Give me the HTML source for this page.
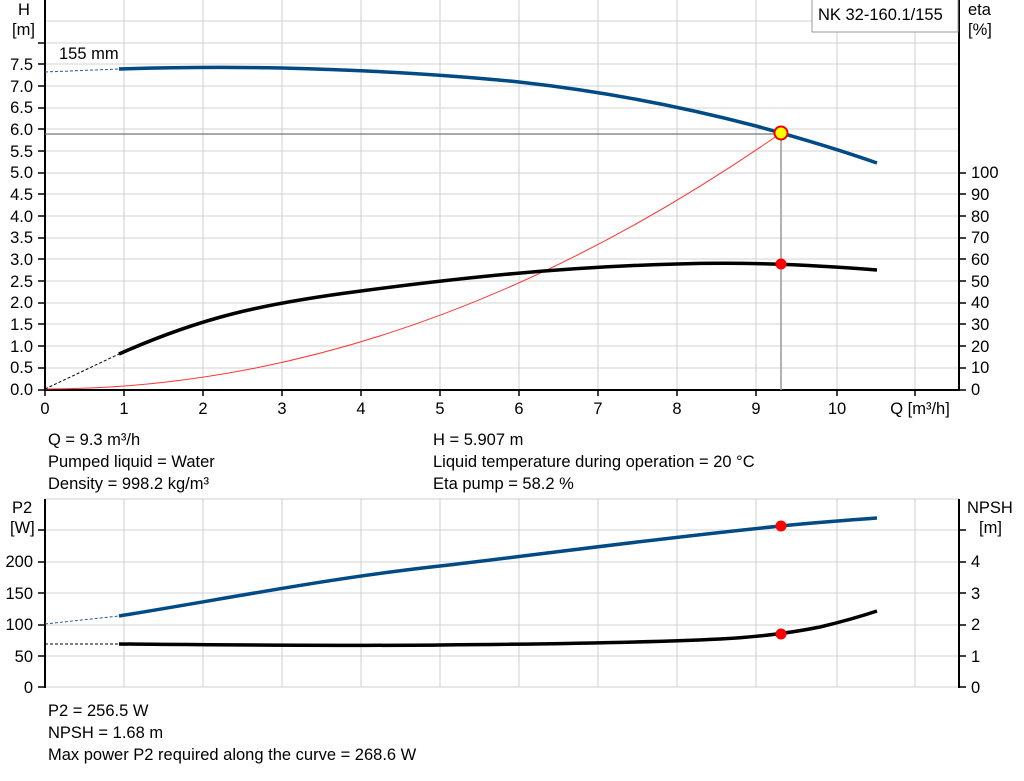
<!DOCTYPE html>
<html><head><meta charset="utf-8"><style>
body{margin:0;background:#fff}
svg{display:block;font-family:"Liberation Sans",Arial,sans-serif}
</style></head><body>
<svg width="1024" height="781" viewBox="0 0 1024 781" xmlns="http://www.w3.org/2000/svg">
<rect width="1024" height="781" fill="#fff"/>
<g stroke="#e2e2e2" stroke-width="1.5">
<line x1="45" y1="21" x2="959" y2="21"/><line x1="45" y1="43" x2="959" y2="43"/>
<line x1="45" y1="64" x2="959" y2="64"/><line x1="45" y1="86" x2="959" y2="86"/>
<line x1="45" y1="108" x2="959" y2="108"/><line x1="45" y1="129" x2="959" y2="129"/>
<line x1="45" y1="151" x2="959" y2="151"/><line x1="45" y1="173" x2="959" y2="173"/>
<line x1="45" y1="194" x2="959" y2="194"/><line x1="45" y1="216" x2="959" y2="216"/>
<line x1="45" y1="238" x2="959" y2="238"/><line x1="45" y1="259" x2="959" y2="259"/>
<line x1="45" y1="281" x2="959" y2="281"/><line x1="45" y1="303" x2="959" y2="303"/>
<line x1="45" y1="324" x2="959" y2="324"/><line x1="45" y1="346" x2="959" y2="346"/>
<line x1="45" y1="368" x2="959" y2="368"/>
</g>
<g stroke="#cfcfcf" stroke-width="1">
<line x1="124" y1="0" x2="124" y2="390"/><line x1="203" y1="0" x2="203" y2="390"/>
<line x1="282" y1="0" x2="282" y2="390"/><line x1="361" y1="0" x2="361" y2="390"/>
<line x1="440" y1="0" x2="440" y2="390"/><line x1="519" y1="0" x2="519" y2="390"/>
<line x1="598" y1="0" x2="598" y2="390"/><line x1="677" y1="0" x2="677" y2="390"/>
<line x1="756" y1="0" x2="756" y2="390"/><line x1="837" y1="0" x2="837" y2="390"/>
<line x1="915" y1="0" x2="915" y2="390"/>
</g>
<g stroke="#000" stroke-width="2" fill="none">
<line x1="45" y1="0" x2="45" y2="390"/><line x1="959" y1="0" x2="959" y2="390"/>
<line x1="44" y1="390" x2="960" y2="390"/>
</g>
<g stroke="#000" stroke-width="1.5">
<line x1="38" y1="43" x2="45" y2="43"/><line x1="38" y1="64" x2="45" y2="64"/><line x1="38" y1="86" x2="45" y2="86"/><line x1="38" y1="108" x2="45" y2="108"/><line x1="38" y1="129" x2="45" y2="129"/><line x1="38" y1="151" x2="45" y2="151"/><line x1="38" y1="173" x2="45" y2="173"/><line x1="38" y1="194" x2="45" y2="194"/><line x1="38" y1="216" x2="45" y2="216"/><line x1="38" y1="238" x2="45" y2="238"/><line x1="38" y1="259" x2="45" y2="259"/><line x1="38" y1="281" x2="45" y2="281"/><line x1="38" y1="303" x2="45" y2="303"/><line x1="38" y1="324" x2="45" y2="324"/><line x1="38" y1="346" x2="45" y2="346"/><line x1="38" y1="368" x2="45" y2="368"/><line x1="38" y1="390" x2="45" y2="390"/>
<line x1="959" y1="173" x2="966" y2="173"/><line x1="959" y1="194" x2="966" y2="194"/><line x1="959" y1="216" x2="966" y2="216"/><line x1="959" y1="238" x2="966" y2="238"/><line x1="959" y1="259" x2="966" y2="259"/><line x1="959" y1="281" x2="966" y2="281"/><line x1="959" y1="303" x2="966" y2="303"/><line x1="959" y1="324" x2="966" y2="324"/><line x1="959" y1="346" x2="966" y2="346"/><line x1="959" y1="368" x2="966" y2="368"/><line x1="959" y1="390" x2="966" y2="390"/>
<line x1="45" y1="390" x2="45" y2="396"/><line x1="124" y1="390" x2="124" y2="396"/><line x1="203" y1="390" x2="203" y2="396"/><line x1="282" y1="390" x2="282" y2="396"/><line x1="361" y1="390" x2="361" y2="396"/><line x1="440" y1="390" x2="440" y2="396"/><line x1="519" y1="390" x2="519" y2="396"/><line x1="598" y1="390" x2="598" y2="396"/><line x1="677" y1="390" x2="677" y2="396"/><line x1="756" y1="390" x2="756" y2="396"/><line x1="837" y1="390" x2="837" y2="396"/><line x1="915" y1="390" x2="915" y2="396"/>
</g>
<g font-size="16.5" fill="#000" text-anchor="end">
<text x="33" y="70">7.5</text><text x="33" y="92">7.0</text><text x="33" y="113">6.5</text><text x="33" y="135">6.0</text><text x="33" y="157">5.5</text><text x="33" y="178">5.0</text><text x="33" y="200">4.5</text><text x="33" y="222">4.0</text><text x="33" y="243">3.5</text><text x="33" y="265">3.0</text><text x="33" y="287">2.5</text><text x="33" y="308">2.0</text><text x="33" y="330">1.5</text><text x="33" y="352">1.0</text><text x="33" y="373">0.5</text><text x="33" y="395">0.0</text>
</g>
<g font-size="16.5" fill="#000">
<text x="971" y="178">100</text><text x="971" y="200">90</text><text x="971" y="222">80</text><text x="971" y="243">70</text><text x="971" y="265">60</text><text x="971" y="287">50</text><text x="971" y="308">40</text><text x="971" y="330">30</text><text x="971" y="352">20</text><text x="971" y="373">10</text><text x="971" y="395">0</text>
<text x="968" y="15">eta</text><text x="968" y="35">[%]</text>
<text x="18" y="15">H</text><text x="12" y="35">[m]</text>
<text x="59" y="59">155 mm</text>
</g>
<g font-size="16.5" fill="#000" text-anchor="middle">
<text x="45" y="414">0</text><text x="124" y="414">1</text><text x="203" y="414">2</text><text x="282" y="414">3</text><text x="361" y="414">4</text><text x="440" y="414">5</text><text x="519" y="414">6</text><text x="598" y="414">7</text><text x="677" y="414">8</text><text x="756" y="414">9</text><text x="837" y="414">10</text>
<text x="920" y="414">Q [m³/h]</text>
</g>
<rect x="812" y="-1" width="146" height="33" fill="#fff" stroke="#999"/>
<text x="818" y="20" font-size="16.5">NK 32-160.1/155</text>
<line x1="45" y1="134" x2="781" y2="134" stroke="#777" stroke-width="1.2"/>
<line x1="781" y1="134" x2="781" y2="390" stroke="#999" stroke-width="1.5"/>
<path d="M45,389 Q413,389 781,133" fill="none" stroke="#f33" stroke-width="1"/>
<line x1="45" y1="72" x2="119" y2="69" stroke="#2a5a8a" stroke-width="1" stroke-dasharray="3,2"/>
<path d="M119,69 C180,67 230,67 282,68 C361,70 440,74 519,82 C600,91 680,106 756,126 C800,138 840,150 877,163" fill="none" stroke="#004a85" stroke-width="3.5"/>
<line x1="45" y1="389" x2="119" y2="354" stroke="#000" stroke-width="1" stroke-dasharray="3,2"/>
<path d="M119,354 C200,318 260,304 361,291 C460,278 560,267 677,264 C740,262 800,264 877,270" fill="none" stroke="#000" stroke-width="3.5"/>
<circle cx="781" cy="133" r="6.5" fill="#ff0" stroke="#e00" stroke-width="2"/>
<circle cx="781" cy="264" r="5.5" fill="#f00"/>
<g font-size="16.5" fill="#000">
<text x="48" y="445">Q = 9.3 m³/h</text>
<text x="48" y="467">Pumped liquid = Water</text>
<text x="48" y="489">Density = 998.2 kg/m³</text>
<text x="433" y="445">H = 5.907 m</text>
<text x="433" y="467">Liquid temperature during operation = 20 °C</text>
<text x="433" y="489">Eta pump = 58.2 %</text>
</g>
<g stroke="#e2e2e2" stroke-width="1.5">
<line x1="45" y1="530" x2="959" y2="530"/><line x1="45" y1="562" x2="959" y2="562"/>
<line x1="45" y1="593" x2="959" y2="593"/><line x1="45" y1="625" x2="959" y2="625"/>
<line x1="45" y1="656" x2="959" y2="656"/>
</g>
<g stroke="#cfcfcf" stroke-width="1">
<line x1="124" y1="499" x2="124" y2="687"/><line x1="203" y1="499" x2="203" y2="687"/>
<line x1="282" y1="499" x2="282" y2="687"/><line x1="361" y1="499" x2="361" y2="687"/>
<line x1="440" y1="499" x2="440" y2="687"/><line x1="519" y1="499" x2="519" y2="687"/>
<line x1="598" y1="499" x2="598" y2="687"/><line x1="677" y1="499" x2="677" y2="687"/>
<line x1="756" y1="499" x2="756" y2="687"/><line x1="837" y1="499" x2="837" y2="687"/>
<line x1="915" y1="499" x2="915" y2="687"/>
<line x1="45" y1="499" x2="959" y2="499"/><line x1="45" y1="687" x2="959" y2="687"/>
</g>
<g stroke="#000" stroke-width="2">
<line x1="45" y1="499" x2="45" y2="688"/><line x1="959" y1="499" x2="959" y2="688"/>
</g>
<g stroke="#000" stroke-width="1.5">
<line x1="38" y1="530" x2="45" y2="530"/><line x1="38" y1="562" x2="45" y2="562"/><line x1="38" y1="593" x2="45" y2="593"/><line x1="38" y1="625" x2="45" y2="625"/><line x1="38" y1="656" x2="45" y2="656"/><line x1="38" y1="687" x2="45" y2="687"/>
<line x1="959" y1="530" x2="966" y2="530"/><line x1="959" y1="562" x2="966" y2="562"/><line x1="959" y1="593" x2="966" y2="593"/><line x1="959" y1="625" x2="966" y2="625"/><line x1="959" y1="656" x2="966" y2="656"/><line x1="959" y1="687" x2="966" y2="687"/>
</g>
<g font-size="16.5" fill="#000" text-anchor="end">
<text x="33" y="567">200</text><text x="33" y="599">150</text><text x="33" y="630">100</text><text x="33" y="662">50</text><text x="33" y="693">0</text>
</g>
<g font-size="16.5" fill="#000">
<text x="971" y="567">4</text><text x="971" y="599">3</text><text x="971" y="630">2</text><text x="971" y="662">1</text><text x="971" y="693">0</text>
<text x="12" y="513">P2</text><text x="10" y="533">[W]</text>
<text x="967" y="513">NPSH</text><text x="979" y="533">[m]</text>
</g>
<line x1="45" y1="624" x2="119" y2="616" stroke="#2a5a8a" stroke-width="1" stroke-dasharray="3,2"/>
<path d="M119,616 C230,598 330,578 440,566 C560,552 660,538 781,526 C820,522 850,520 877,518" fill="none" stroke="#004a85" stroke-width="3.5"/>
<line x1="45" y1="644" x2="119" y2="644" stroke="#000" stroke-width="1" stroke-dasharray="3,2"/>
<path d="M119,644 C250,645 350,646 440,645 C560,644 660,642 720,639 C760,637 790,633 820,627 C845,621 862,616 877,611" fill="none" stroke="#000" stroke-width="3.5"/>
<circle cx="781" cy="526" r="5.5" fill="#f00"/>
<circle cx="781" cy="634" r="5.5" fill="#f00"/>
<g font-size="16.5" fill="#000">
<text x="48" y="716">P2 = 256.5 W</text>
<text x="48" y="738">NPSH = 1.68 m</text>
<text x="48" y="760">Max power P2 required along the curve = 268.6 W</text>
</g>
</svg>
</body></html>
